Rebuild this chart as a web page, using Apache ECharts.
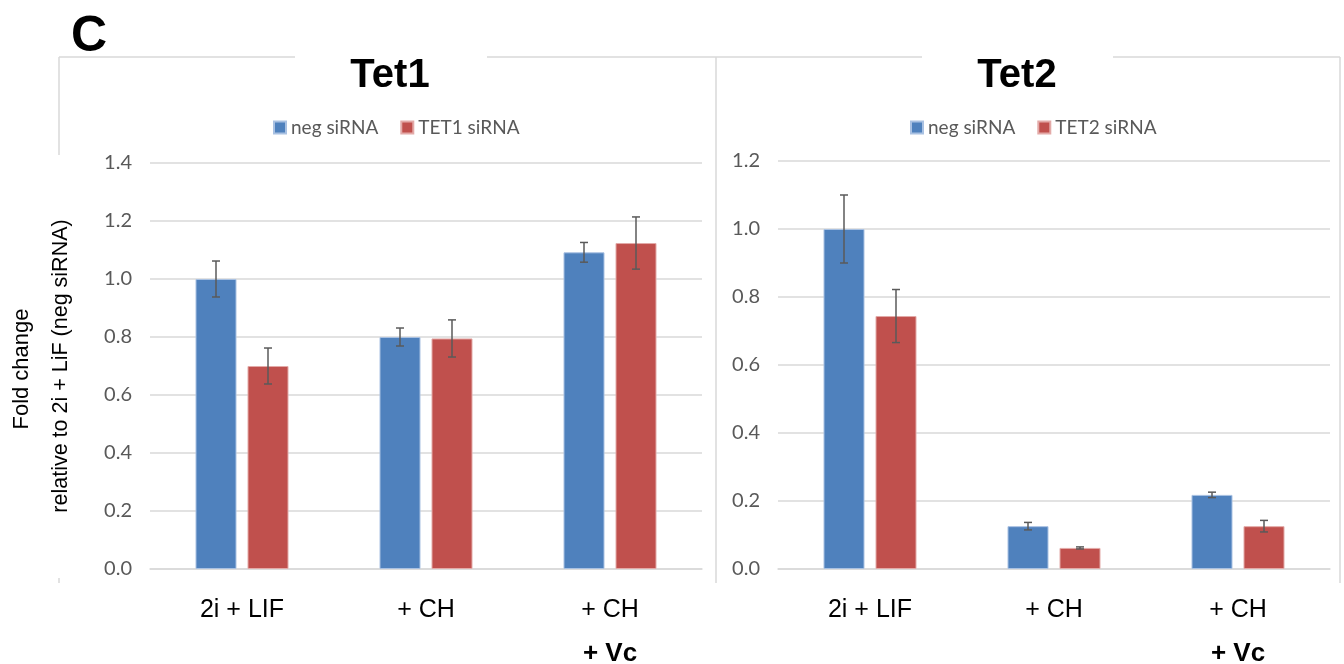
<!DOCTYPE html>
<html>
<head>
<meta charset="utf-8">
<script src="https://cdn.jsdelivr.net/npm/echarts@6/dist/echarts.min.js"></script>
<style>
html, body { margin: 0; padding: 0; background: #ffffff; }
#chart { width: 1344px; height: 664px; }
</style>
</head>
<body>
<div id="chart"></div>
<script>
// Categories shared by both panels (second line is drawn in bold)
const categories = ['2i + LIF', '+ CH', '+ CH\n+ Vc'];

// Tet1 panel: mean fold change and error (±)
const tet1Neg = [1.00, 0.80, 1.092];
const tet1NegErr = [0.062, 0.031, 0.034];
const tet1Kd = [0.70, 0.795, 1.124];
const tet1KdErr = [0.062, 0.064, 0.090];

// Tet2 panel: mean fold change and error (±)
const tet2Neg = [1.00, 0.126, 0.218];
const tet2NegErr = [0.100, 0.011, 0.008];
const tet2Kd = [0.744, 0.062, 0.126];
const tet2KdErr = [0.078, 0.003, 0.017];

// Y axis ranges
const tet1YMax = 1.4;
const tet2YMax = 1.2;
const yStep = 0.2;

const BLUE = '#4f81bd';
const RED = '#c0504d';
const FRAME = '#d9d9d9';
const TICK_FONT = "'Liberation Sans Narrow', 'Lato', sans-serif";
const LABEL_FONT = "'Liberation Sans', Arial, sans-serif";

const chart = echarts.init(document.getElementById('chart'), null, { renderer: 'canvas' });

const BAR_W = 41;
const BAR_GAP = 11;
const HALF_SHIFT = (BAR_W + BAR_GAP) / 2;

function barSeries(name, axis, values, color, edge) {
  return {
    type: 'bar', name: name, xAxisIndex: axis, yAxisIndex: axis,
    data: values, barWidth: BAR_W, barGap: (BAR_GAP / BAR_W * 100) + '%',
    itemStyle: { color: color, borderColor: edge, borderWidth: 1 },
    emphasis: { disabled: true }
  };
}

function errorSeries(name, axis, values, errs, side) {
  return {
    type: 'custom', name: name, xAxisIndex: axis, yAxisIndex: axis, z: 5, silent: true,
    data: values.map((v, i) => [i, v - errs[i], v + errs[i]]),
    encode: { x: 0, y: [1, 2] },
    renderItem: function (params, api) {
      const lo = api.coord([api.value(0), api.value(1)]);
      const hi = api.coord([api.value(0), api.value(2)]);
      const x = lo[0] + side * HALF_SHIFT;
      const cap = 4;
      const st = { stroke: '#5a5a5a', lineWidth: 1.5 };
      return {
        type: 'group',
        children: [
          { type: 'line', shape: { x1: x, y1: hi[1], x2: x, y2: lo[1] }, style: st },
          { type: 'line', shape: { x1: x - cap, y1: hi[1], x2: x + cap, y2: hi[1] }, style: st },
          { type: 'line', shape: { x1: x - cap, y1: lo[1], x2: x + cap, y2: lo[1] }, style: st }
        ]
      };
    }
  };
}

function xAxis(gridIndex) {
  return {
    type: 'category', gridIndex: gridIndex, data: categories,
    axisLine: { lineStyle: { color: FRAME, width: 1.5 } },
    axisTick: { show: false },
    axisLabel: {
      color: '#000', fontFamily: LABEL_FONT, fontSize: 25, lineHeight: 43, margin: 20,
      formatter: function (v) {
        const parts = v.split('\n');
        return parts.length > 1 ? parts[0] + '\n{b|' + parts[1] + '}' : v;
      },
      rich: { b: { fontWeight: 'bold', fontSize: 26, lineHeight: 43, fontFamily: LABEL_FONT, color: '#000' } }
    }
  };
}

function yAxis(gridIndex, max) {
  return {
    type: 'value', gridIndex: gridIndex, min: 0, max: max, interval: yStep,
    axisLine: { show: false }, axisTick: { show: false },
    splitLine: { lineStyle: { color: FRAME, width: 1.5 } },
    axisLabel: {
      color: '#595959', fontFamily: TICK_FONT, fontSize: 20, margin: 18,
      formatter: v => v.toFixed(1)
    }
  };
}

function legend(left, secondName) {
  return {
    left: left, top: 118, padding: 0, itemWidth: 12, itemHeight: 12, itemGap: 22,
    icon: 'rect', selectedMode: false,
    data: ['neg siRNA', secondName],
    textStyle: { color: '#595959', fontFamily: TICK_FONT, fontSize: 19 }
  };
}

const frame = { stroke: FRAME, lineWidth: 1.5 };
function seg(x1, y1, x2, y2) {
  return { type: 'line', silent: true, shape: { x1, y1, x2, y2 }, style: frame };
}

const option = {
  animation: false,
  backgroundColor: '#ffffff',
  grid: [
    { left: 150, right: 1344 - 702, top: 163, bottom: 664 - 569, outerBoundsMode: 'none', containLabel: false },
    { left: 778, right: 1344 - 1330, top: 161, bottom: 664 - 569, outerBoundsMode: 'none', containLabel: false }
  ],
  xAxis: [xAxis(0), xAxis(1)],
  yAxis: [yAxis(0, tet1YMax), yAxis(1, tet2YMax)],
  legend: [legend(273, 'TET1 siRNA'), legend(910, 'TET2 siRNA')],
  series: [
    barSeries('neg siRNA', 0, tet1Neg, BLUE, '#a9c1e2'),
    barSeries('TET1 siRNA', 0, tet1Kd, RED, '#e3aaa8'),
    errorSeries('neg siRNA err', 0, tet1Neg, tet1NegErr, -1),
    errorSeries('TET1 siRNA err', 0, tet1Kd, tet1KdErr, 1),
    barSeries('neg siRNA', 1, tet2Neg, BLUE, '#a9c1e2'),
    barSeries('TET2 siRNA', 1, tet2Kd, RED, '#e3aaa8'),
    errorSeries('neg siRNA err', 1, tet2Neg, tet2NegErr, -1),
    errorSeries('TET2 siRNA err', 1, tet2Kd, tet2KdErr, 1)
  ],
  graphic: [
    // panel frames, with gaps behind the titles and the axis title
    seg(59, 57, 295, 57), seg(487, 57, 922, 57), seg(1113, 57, 1340, 57),
    seg(59, 57, 59, 155), seg(59, 578, 59, 583),
    seg(716, 57, 716, 583), seg(1340, 57, 1340, 583),
    { type: 'text', x: 89, y: 37, style: { text: 'C', font: "bold 50px 'Liberation Sans', Arial, sans-serif", fill: '#000', align: 'center', verticalAlign: 'middle' } },
    { type: 'text', x: 390, y: 76, style: { text: 'Tet1', font: "bold 40px 'Liberation Sans', Arial, sans-serif", fill: '#000', align: 'center', verticalAlign: 'middle' } },
    { type: 'text', x: 1017, y: 76, style: { text: 'Tet2', font: "bold 40px 'Liberation Sans', Arial, sans-serif", fill: '#000', align: 'center', verticalAlign: 'middle' } },
    { type: 'text', x: 22, y: 369, rotation: Math.PI / 2, style: { text: 'Fold change', font: "22px 'Liberation Sans', Arial, sans-serif", fill: '#000', align: 'center', verticalAlign: 'middle' } },
    { type: 'text', x: 61, y: 366, rotation: Math.PI / 2, style: { text: 'relative to 2i + LiF (neg siRNA)', font: "21.5px 'Liberation Sans', Arial, sans-serif", fill: '#000', align: 'center', verticalAlign: 'middle' } }
  ]
};

chart.setOption(option);
</script>
</body>
</html>
